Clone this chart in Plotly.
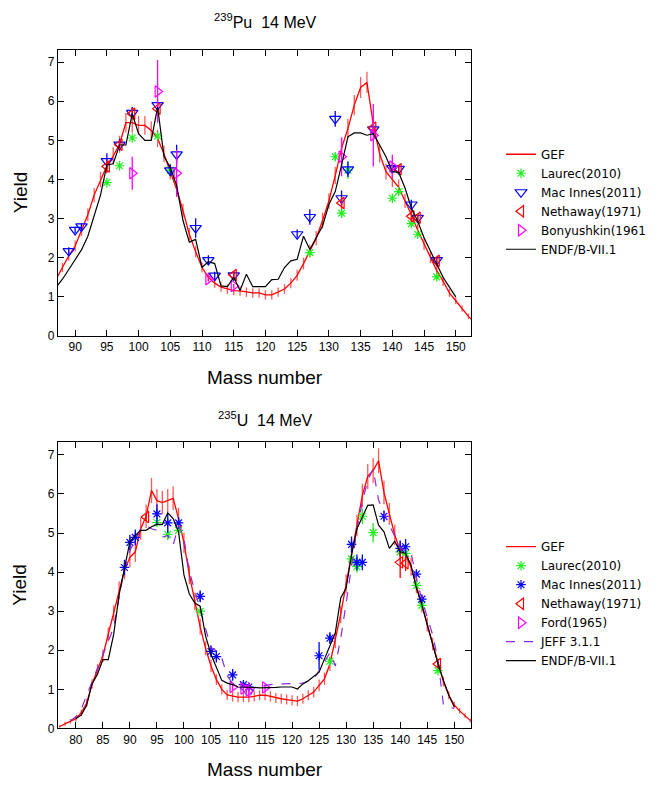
import plotly.graph_objects as go

# ---------------- 239Pu 14 MeV (top panel) ----------------
pu_A = list(range(87, 154))
pu_gef = [1.45, 1.75, 2.05, 2.3, 2.7, 3.1, 3.6, 4.0, 4.35, 4.6, 4.9, 5.45, 5.45, 5.38, 5.38, 5.25,
          5.05, 4.65, 4.2, 3.75, 3.2, 2.6, 2.15, 1.75, 1.5, 1.35, 1.25, 1.2, 1.16, 1.15, 1.12, 1.1,
          1.1, 1.05, 1.05, 1.12, 1.2, 1.35, 1.55, 1.85, 2.17, 2.5, 2.95, 3.45, 4.1, 4.8, 5.3, 5.9,
          6.35, 6.48, 5.4, 4.65, 4.2, 4.0, 3.8, 3.45, 3.1, 2.7, 2.35, 2.0, 1.67, 1.4, 1.1, 0.9,
          0.7, 0.5, 0.35]
pu_gef_err = [0.12, 0.12, 0.13, 0.14, 0.15, 0.16, 0.18, 0.2, 0.2, 0.22, 0.22, 0.25,
              0.25, 0.24, 0.24, 0.23, 0.22, 0.21, 0.2, 0.2, 0.18, 0.16, 0.14, 0.13,
              0.12, 0.12, 0.12, 0.12, 0.12, 0.12, 0.12, 0.12, 0.12, 0.12, 0.12, 0.12,
              0.12, 0.13, 0.14, 0.15, 0.16, 0.18, 0.2, 0.2, 0.22, 0.24, 0.25, 0.26,
              0.27, 0.27, 0.25, 0.22, 0.2, 0.2, 0.2, 0.18, 0.17, 0.16, 0.15, 0.14,
              0.13, 0.12, 0.1, 0.09, 0.08, 0.07, 0.06]
pu_endf_A = list(range(87, 151))
pu_endf = [1.25, 1.45, 1.7, 1.95, 2.2, 2.55, 3.1, 3.6, 4.37, 4.4, 4.88, 4.88, 5.68, 5.17, 5.0, 5.0,
           5.85, 4.6, 4.3, 3.85, 2.95, 2.4, 2.47, 1.75, 1.9, 1.85, 1.28, 1.26, 1.5, 1.16, 1.58, 1.26,
           1.26, 1.26, 1.44, 1.45, 1.75, 1.92, 1.96, 2.55, 2.21, 2.51, 2.81, 3.36, 3.69, 4.37, 5.09,
           5.19, 5.19, 5.13, 5.17, 4.88, 4.58, 4.2, 4.18, 3.78, 3.27, 2.93, 2.51, 2.17, 1.83, 1.5,
           1.25, 1.0]

pu_laurec_A = [95, 97, 99, 103, 105, 127, 131, 132, 133, 140, 141, 143, 144, 147]
pu_laurec_Y = [3.92, 4.35, 5.06, 5.11, 4.24, 2.13, 4.58, 3.14, 4.24, 3.52, 3.69, 2.87, 2.6, 1.51]
pu_laurec_E = [0.05, 0.05, 0.06, 0.06, 0.06, 0.05, 0.1, 0.12, 0.22, 0.05, 0.05, 0.05, 0.05, 0.04]

pu_mac_A = [89, 90, 91, 95, 97, 99, 103, 105, 106, 109, 111, 112, 115, 125, 127, 131, 132, 133,
            137, 140, 141, 143, 144, 147]
pu_mac_Y = [2.17, 2.71, 2.8, 4.47, 4.89, 5.7, 5.9, 4.23, 4.64, 2.76, 1.94, 1.54, 1.55, 2.6, 3.04,
            5.55, 3.52, 4.26, 5.28, 4.29, 4.27, 3.36, 3.02, 1.94]
pu_mac_E = [0.1, 0.08, 0.08, 0.2, 0.15, 0.15, 0.12, 0.15, 0.25, 0.25, 0.12, 0.1, 0.1, 0.12, 0.2,
            0.2, 0.2, 0.2, 0.12, 0.12, 0.1, 0.12, 0.1, 0.08]

pu_neth_A = [95, 97, 99, 103, 115, 132, 137, 141, 143, 144, 147]
pu_neth_Y = [4.33, 4.89, 5.68, 5.81, 1.56, 3.4, 5.32, 4.26, 3.06, 3.02, 1.92]
pu_neth_E = [0.15, 0.1, 0.15, 0.1, 0.1, 0.15, 0.1, 0.1, 0.15, 0.1, 0.08]

pu_bony_A = [99, 103, 106, 111, 115, 132, 137, 140]
pu_bony_Y = [4.16, 6.25, 4.16, 1.45, 1.28, 4.58, 5.13, 4.33]
pu_bony_E = [0.42, 0.8, 0.6, 0.05, 0.05, 0.5, 0.8, 0.3]

# ---------------- 235U 14 MeV (bottom panel) ----------------
u_A = list(range(77, 154))
u_gef = [0.05, 0.12, 0.18, 0.25, 0.4, 0.65, 1.14, 1.5, 1.86, 2.41, 2.95, 3.55, 4.05, 4.38, 4.52,
         5.11, 5.43, 6.09, 5.83, 5.78, 5.83, 5.89, 5.37, 4.75, 3.93, 3.25, 2.6, 2.05, 1.6, 1.25,
         1.0, 0.86, 0.82, 0.8, 0.8, 0.8, 0.82, 0.85, 0.85, 0.82, 0.78, 0.76, 0.74, 0.72, 0.7,
         0.76, 0.85, 0.93, 1.1, 1.27, 1.65, 2.25, 2.92, 3.7, 4.44, 5.2, 5.96, 6.45, 6.6, 6.85,
         6.04, 5.49, 4.95, 4.55, 4.44, 4.14, 3.68, 3.17, 2.66, 2.16, 1.65, 1.2, 0.85, 0.6, 0.45,
         0.33, 0.2]
u_gef_err = [0.03, 0.05, 0.06, 0.07, 0.08, 0.1,
             0.12, 0.14, 0.16, 0.18, 0.2, 0.22,
             0.24, 0.25, 0.26, 0.28, 0.3, 0.32,
             0.3, 0.3, 0.3, 0.3, 0.28, 0.26,
             0.24, 0.22, 0.2, 0.18, 0.16, 0.14,
             0.13, 0.13, 0.13, 0.13, 0.13, 0.13,
             0.13, 0.13, 0.13, 0.13, 0.13, 0.13,
             0.13, 0.13, 0.13, 0.13, 0.13, 0.14,
             0.15, 0.16, 0.18, 0.2, 0.22, 0.24,
             0.26, 0.28, 0.3, 0.32, 0.32, 0.32,
             0.3, 0.28, 0.26, 0.25, 0.24, 0.23,
             0.22, 0.2, 0.18, 0.16, 0.14, 0.12,
             0.1, 0.08, 0.07, 0.06, 0.05]
u_endf_A = list(range(80, 151))
u_endf = [0.25, 0.34, 0.59, 1.14, 1.39, 1.76, 1.76, 2.41, 3.42, 4.1, 4.78, 4.94, 5.07, 5.07, 5.16,
          5.22, 5.22, 5.52, 5.37, 5.03, 3.93, 3.44, 3.21, 3.13, 2.37, 1.9, 1.56, 1.23, 1.16, 1.12,
          1.06, 1.06, 1.06, 1.05, 1.04, 1.04, 1.04, 1.05, 1.06, 1.06, 1.06, 1.01, 1.14, 1.22, 1.32,
          1.44, 1.78, 2.11, 2.45, 3.34, 3.59, 4.44, 5.11, 5.41, 5.71, 5.72, 5.2, 5.03, 4.61, 4.79,
          4.52, 4.48, 4.18, 3.59, 3.17, 2.66, 2.16, 1.65, 1.23, 0.85, 0.55]
u_jeff_A = list(range(79, 151))
u_jeff = [0.2, 0.3, 0.5, 0.85, 1.18, 1.55, 1.88, 2.2, 2.58, 3.35, 4.1, 4.55, 4.85, 5.11, 5.2, 5.11,
          5.07, 4.9, 4.94, 4.69, 5.2, 4.86, 4.01, 3.55, 3.05, 2.55, 2.07, 1.99, 1.8, 1.35, 1.15,
          1.08, 0.97, 0.76, 1.03, 1.08, 1.1, 1.12, 1.14, 1.14, 1.14, 1.14, 1.15, 1.16, 1.2, 1.26,
          1.48, 1.7, 1.94, 1.6, 2.3, 3.2, 4.2, 5.1, 5.8, 6.35, 6.64, 5.85, 5.5, 5.2, 4.9, 4.62,
          4.55, 4.5, 3.85, 3.3, 2.85, 2.4, 1.75, 0.6, 0.55, 0.51]

u_laurec_A = [95, 97, 99, 103, 127, 131, 132, 133, 135, 140, 141, 143, 144, 147]
u_laurec_Y = [5.27, 4.97, 5.07, 3.0, 1.72, 4.34, 4.14, 5.43, 5.01, 4.52, 4.48, 3.66, 3.15, 1.48]
u_laurec_E = [0.08, 0.15, 0.1, 0.05, 0.1, 0.15, 0.15, 0.2, 0.25, 0.1, 0.1, 0.1, 0.1, 0.05]

u_mac_A = [89, 90, 91, 95, 97, 99, 103, 105, 106, 109, 111, 112, 125, 127, 131, 132, 133, 137,
           140, 141, 143, 144]
u_mac_Y = [4.12, 4.76, 4.89, 5.49, 5.26, 5.26, 3.38, 1.97, 1.84, 1.37, 1.12, 1.06, 1.86, 2.31,
           4.71, 4.25, 4.25, 5.43, 4.61, 4.65, 3.95, 3.31]
u_mac_E = [0.2, 0.2, 0.2, 0.25, 0.25, 0.15, 0.15, 0.15, 0.15, 0.15, 0.1, 0.1, 0.35, 0.15, 0.2,
           0.2, 0.2, 0.15, 0.2, 0.2, 0.1, 0.1]

u_neth_A = [93, 140, 141, 147]
u_neth_Y = [5.41, 4.25, 4.23, 1.65]
u_neth_E = [0.1, 0.4, 0.2, 0.1]

u_ford_A = [109, 111, 112, 115]
u_ford_Y = [1.06, 1.02, 0.97, 1.05]
u_ford_E = [0.08, 0.08, 0.2, 0.08]

# ---------------- styling ----------------
RED = "#ff0000"
GEF_BAR = "#ff5a5a"
GREEN = "#22ee22"
BLUE = "#0000ff"
MAGENTA = "#ff00ff"
PURPLE = "#8a2be2"
FONT = "Liberation Sans"
LEGFONT = "DejaVu Sans"

W, H = 659, 785


def fx(px):
    return px / W


def fy(py):
    return (H - py) / H


fig = go.Figure()


def gef_trace(x, y, e, xa, ya, leg):
    return go.Scatter(x=x, y=y, mode="lines", name="GEF",
                      line=dict(color=RED, width=1.3),
                      error_y=dict(type="data", array=e, visible=True, color=GEF_BAR,
                                   thickness=1.3, width=0),
                      xaxis=xa, yaxis=ya, legend=leg)


def pts(x, y, e, name, symbol, color, xa, ya, leg, size=9):
    return go.Scatter(x=x, y=y, mode="markers", name=name,
                      marker=dict(symbol=symbol, size=size, color=color,
                                  line=dict(color=color, width=1.2)),
                      error_y=dict(type="data", array=e, visible=True, color=color,
                                   thickness=1.3, width=0),
                      xaxis=xa, yaxis=ya, legend=leg)


# top panel traces
fig.add_trace(gef_trace(pu_A, pu_gef, pu_gef_err, "x", "y", "legend"))
fig.add_trace(pts(pu_laurec_A, pu_laurec_Y, pu_laurec_E, "Laurec(2010)", "asterisk-open",
                  GREEN, "x", "y", "legend", 8))
fig.add_trace(pts(pu_mac_A, pu_mac_Y, pu_mac_E, "Mac Innes(2011)", "triangle-down-open",
                  BLUE, "x", "y", "legend", 10))
fig.add_trace(pts(pu_neth_A, pu_neth_Y, pu_neth_E, "Nethaway(1971)", "triangle-left-open",
                  RED, "x", "y", "legend", 10))
fig.add_trace(pts(pu_bony_A, pu_bony_Y, pu_bony_E, "Bonyushkin(1961", "triangle-right-open",
                  MAGENTA, "x", "y", "legend", 10))
fig.add_trace(go.Scatter(x=pu_endf_A, y=pu_endf, mode="lines", name="ENDF/B-VII.1",
                         line=dict(color="black", width=1.2), xaxis="x", yaxis="y",
                         legend="legend"))

# bottom panel traces
fig.add_trace(gef_trace(u_A, u_gef, u_gef_err, "x2", "y2", "legend2"))
fig.add_trace(pts(u_laurec_A, u_laurec_Y, u_laurec_E, "Laurec(2010)", "asterisk-open",
                  GREEN, "x2", "y2", "legend2", 8))
fig.add_trace(pts(u_mac_A, u_mac_Y, u_mac_E, "Mac Innes(2011)", "asterisk-open",
                  BLUE, "x2", "y2", "legend2", 8))
fig.add_trace(pts(u_neth_A, u_neth_Y, u_neth_E, "Nethaway(1971)", "triangle-left-open",
                  RED, "x2", "y2", "legend2", 10))
fig.add_trace(pts(u_ford_A, u_ford_Y, u_ford_E, "Ford(1965)", "triangle-right-open",
                  MAGENTA, "x2", "y2", "legend2", 10))
fig.add_trace(go.Scatter(x=u_jeff_A, y=u_jeff, mode="lines", name="JEFF 3.1.1",
                         line=dict(color=PURPLE, width=1.2, dash="dash"), xaxis="x2", yaxis="y2",
                         legend="legend2"))
fig.add_trace(go.Scatter(x=u_endf_A, y=u_endf, mode="lines", name="ENDF/B-VII.1",
                         line=dict(color="black", width=1.2), xaxis="x2", yaxis="y2",
                         legend="legend2"))

x_dom = [fx(58), fx(471)]
top_dom = [fy(339), fy(50)]
bot_dom = [fy(735), fy(446)]

axis_common = dict(showline=True, linecolor="black", linewidth=1.2, mirror="ticks",
                   ticks="inside", ticklen=6, tickwidth=1, tickcolor="black",
                   showgrid=False, zeroline=False,
                   tickfont=dict(family=FONT, size=12, color="black"))

legend_common = dict(xanchor="left", yanchor="top", bgcolor="rgba(0,0,0,0)",
                     font=dict(family=LEGFONT, size=12, color="black"),
                     tracegroupgap=0, itemwidth=30)

fig.update_layout(
    width=W, height=H,
    margin=dict(l=0, r=0, t=0, b=0),
    paper_bgcolor="white", plot_bgcolor="white",
    font=dict(family=FONT, color="black"),
    xaxis=dict(domain=x_dom, anchor="y", range=[87.3, 152.4], tickmode="array",
               tickvals=list(range(90, 151, 5)), **axis_common),
    yaxis=dict(domain=top_dom, anchor="x", range=[0, 7.32], tickmode="array",
               tickvals=list(range(0, 8)), **axis_common),
    xaxis2=dict(domain=x_dom, anchor="y2", range=[76.7, 153.1], tickmode="array",
                tickvals=list(range(80, 151, 5)), **axis_common),
    yaxis2=dict(domain=bot_dom, anchor="x2", range=[0, 7.33], tickmode="array",
                tickvals=list(range(0, 8)), **axis_common),
    legend=dict(x=fx(501), y=fy(141), **legend_common),
    legend2=dict(x=fx(501), y=fy(537), **legend_common),
)

annots = [
    dict(text="<sup>239</sup>Pu\u00a0\u00a014 MeV", x=265, y=21, size=16),
    dict(text="<sup>235</sup>U\u00a0\u00a014 MeV", x=265, y=423, size=16),
    dict(text="Mass number", x=265, y=381, size=19),
    dict(text="Mass number", x=265, y=776, size=19),
]
for a in annots:
    fig.add_annotation(text=a["text"], x=fx(a["x"]), y=fy(a["y"]), xref="paper", yref="paper",
                       xanchor="center", yanchor="middle", showarrow=False,
                       font=dict(family=FONT, size=a["size"], color="black"))
for yc in [194, 590]:
    fig.add_annotation(text="Yield", x=fx(20), y=fy(yc), xref="paper", yref="paper",
                       xanchor="center", yanchor="middle", showarrow=False, textangle=-90,
                       font=dict(family=FONT, size=19, color="black"))

# remove the default 8px page margin so the figure fills the window exactly
fig.write_html("out.html", config={"displayModeBar": False},
               post_script="document.body.style.margin='0';")
